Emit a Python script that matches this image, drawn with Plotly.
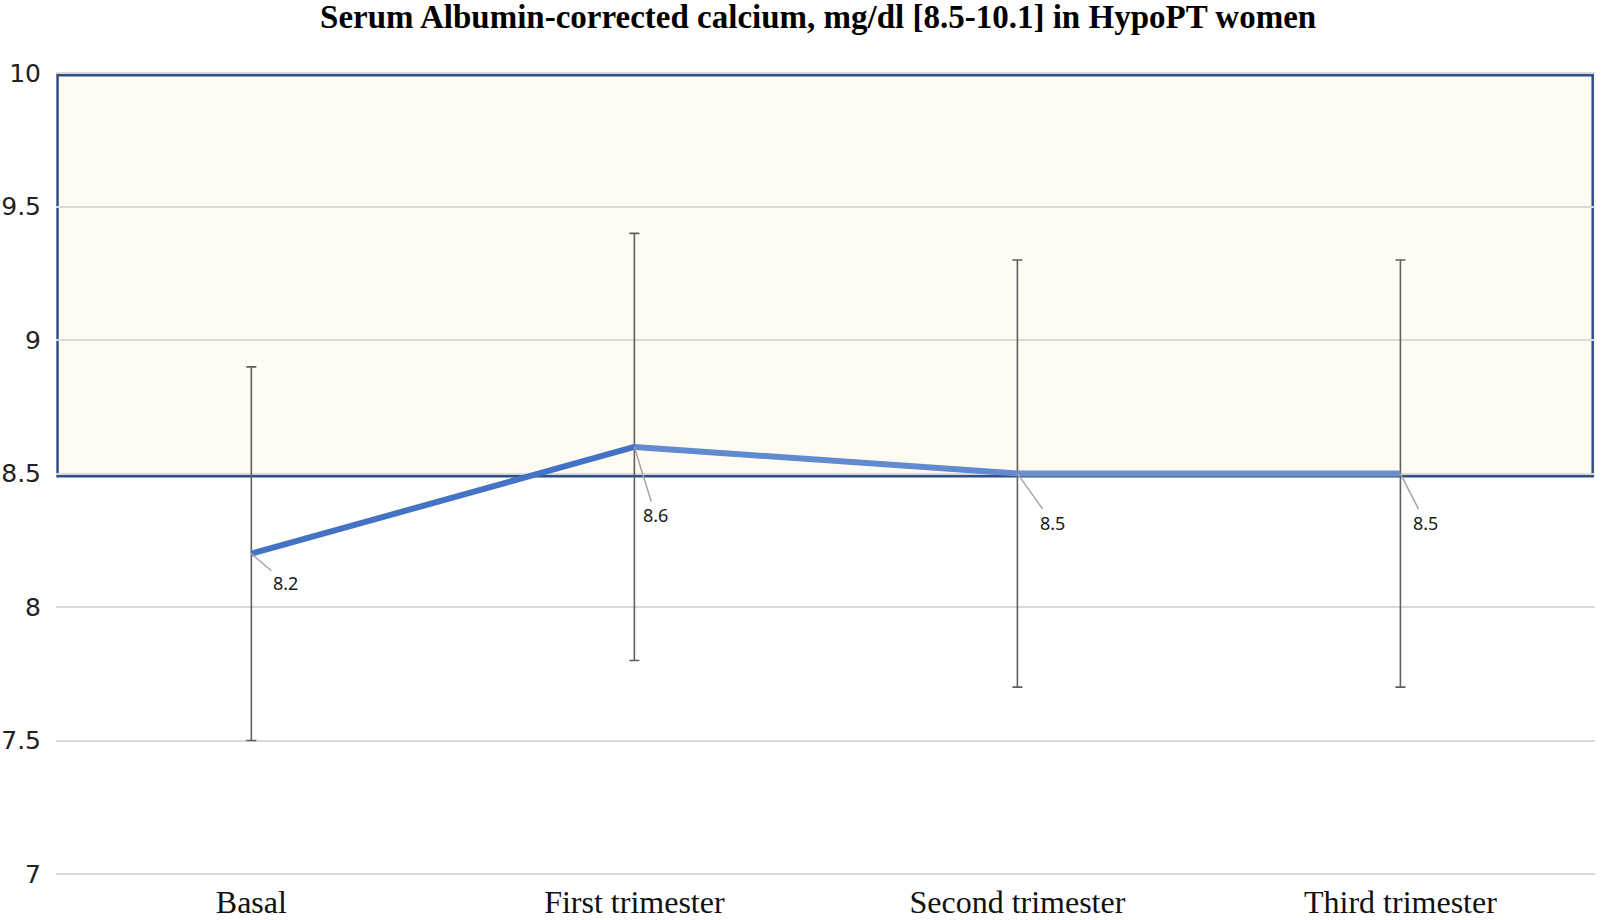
import plotly.graph_objects as go

categories = ["Basal", "First trimester", "Second trimester", "Third trimester"]
means = [8.2, 8.6, 8.5, 8.5]
sd = [0.7, 0.8, 0.8, 0.8]
labels = ["8.2", "8.6", "8.5", "8.5"]
ref_low, ref_high = 8.5, 10.0
y_ticks = [7, 7.5, 8, 8.5, 9, 9.5, 10]

seg_colors = ["#4472C4", "#628AD0", "#6A8FCF"]
label_offsets = [(34, 29), (21, 68), (35, 49), (25, 49)]

fig = go.Figure()

# error bars
fig.add_trace(go.Scatter(
    x=categories, y=means, mode="markers",
    marker=dict(size=1, color="rgba(0,0,0,0)"),
    error_y=dict(type="data", array=sd, visible=True, color="#5f5f5f",
                 thickness=1.6, width=5),
    showlegend=False, hoverinfo="skip"))

# line segments (slight colour gradient as in the original)
for i in range(len(categories) - 1):
    fig.add_trace(go.Scatter(
        x=categories[i:i + 2], y=means[i:i + 2], mode="lines",
        line=dict(color=seg_colors[i], width=6),
        showlegend=False))

# reference range band
fig.add_shape(type="rect", xref="paper", yref="y", x0=0, x1=1,
              y0=ref_low, y1=ref_high, fillcolor="#FEFBF3",
              line=dict(width=0), layer="below")
fig.add_shape(type="rect", xref="paper", yref="y", x0=0.001, x1=0.9985,
              y0=ref_low - 0.01, y1=ref_high - 0.008,
              fillcolor="rgba(0,0,0,0)",
              line=dict(color="#2F4F86", width=2.5), layer="between")

for c, m, t, (ax, ay) in zip(categories, means, labels, label_offsets):
    fig.add_annotation(x=c, y=m, text=t, showarrow=True, arrowhead=0,
                       arrowwidth=1.5, arrowcolor="#A6A6A6", ax=ax, ay=ay,
                       standoff=0, font=dict(family="Noto Sans", size=18,
                                             color="#1a1a1a"))

fig.update_layout(
    width=1601, height=920,
    margin=dict(l=56, r=6, t=70, b=42, autoexpand=False),
    paper_bgcolor="white", plot_bgcolor="white",
    title=dict(text="<b>Serum Albumin-corrected calcium, mg/dl [8.5-10.1] in HypoPT women</b>",
               x=0.511, xanchor="center", y=1, yanchor="top",
               yref="container", pad=dict(t=5, b=0),
               font=dict(family="Liberation Serif", size=33, color="black")),
    xaxis=dict(type="category", range=[-0.51, 3.508], showgrid=False,
               showline=False, zeroline=False, ticks="", automargin=False,
               ticklabelstandoff=2,
               tickfont=dict(family="Liberation Serif", size=32, color="#111111")),
    yaxis=dict(range=[6.985, 10.012], tickvals=y_ticks,
               ticktext=[f"{v:g}" for v in y_ticks],
               showgrid=True, gridcolor="#D9D9D9", gridwidth=2,
               zeroline=False, showline=False, ticks="", automargin=False,
               ticklabelstandoff=14,
               tickfont=dict(family="DejaVu Sans", size=25, color="#222222")),
)

fig.write_html("out.html", config={"displayModeBar": False},
               post_script="document.body.style.margin='0';document.body.style.overflow='hidden';")
